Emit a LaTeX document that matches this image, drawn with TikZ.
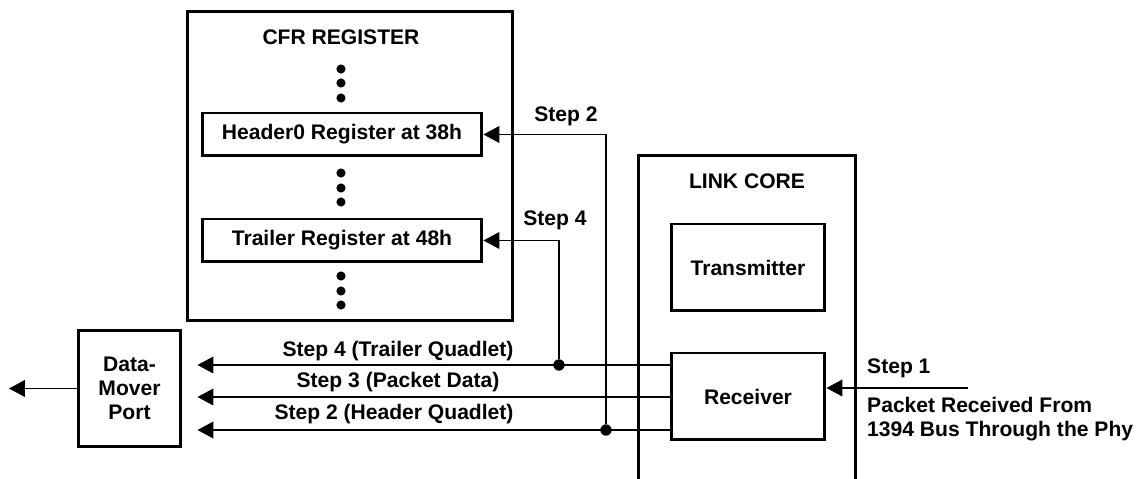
\documentclass[tikz,border=0pt]{standalone}
\usepackage{fontspec}
\setmainfont{Liberation Sans}
\usetikzlibrary{arrows.meta}
\tikzset{
  lbl/.style={font=\fontsize{12}{13.6}\selectfont\bfseries},
  blk/.style={draw, line width=1.7pt, inner sep=0pt, lbl},
  sig/.style={line width=0.7pt, -{Triangle[length=9pt,width=9.5pt]}},
  dot/.style={circle, fill, inner sep=0pt, minimum size=5.2pt},
  jnc/.style={circle, fill, inner sep=0pt, minimum size=6.5pt},
}
\begin{document}
\begin{tikzpicture}[x=0.02cm, y=-0.02cm]
  \useasboundingbox (0,0) rectangle (1140,479);
  \clip (0,0) rectangle (1140,479);
  % CFR register
  \node[blk, minimum width=6.52cm, minimum height=6.2cm] (cfr) at (350,166) {};
  \node[lbl] (cfrtitle) at (341,37) {CFR REGISTER};
  \node[blk, minimum width=5.6cm, minimum height=0.86cm] (hdr) at (342,134.5) {Header0 Register at 38h};
  \node[blk, minimum width=5.6cm, minimum height=0.86cm] (trl) at (342,240.5) {Trailer Register at 48h};
  \foreach \y [count=\i] in {69,83,98,173,188,202,276,291,305}
    \node[dot] (d\i) at (341,\y) {};
  % link core
  \node[blk, minimum width=4.36cm, minimum height=7.3cm] (link) at (747,337.5) {};
  \node[lbl] (linktitle) at (747,181) {LINK CORE};
  \node[blk, minimum width=3.08cm, minimum height=1.74cm] (tx) at (748,267.5) {Transmitter};
  \node[blk, minimum width=3.08cm, minimum height=1.74cm] (rx) at (748,396.5) {Receiver};
  % data mover port
  \node[blk, minimum width=2.06cm, minimum height=2.34cm, align=center] (dmp) at (129.5,388.5) {Data-\\Mover\\Port};
  \coordinate (out) at (9,388.5);
  \draw[sig] (dmp.west) -- (out);
  % step 1
  \coordinate (bus) at (968,388);
  \draw[sig] (bus) -- (rx.east |- bus);
  \node[lbl, anchor=west] (s1) at (861,368) {Step 1};
  \node[lbl, anchor=west, align=left] (s1txt) at (861,419.5) {Packet Received From\\1394 Bus Through the Phy};
  % receiver outputs
  \node[jnc] (j4) at (559,365) {};
  \node[jnc] (j2) at (606,430) {};
  \draw[sig, shorten >=0.3cm] (rx.west |- j4) -- (dmp.east |- j4);
  \draw[sig, shorten >=0.3cm] (rx.west |- 0,397) -- (dmp.east |- 0,397);
  \draw[sig, shorten >=0.3cm] (rx.west |- j2) -- (dmp.east |- j2);
  \draw[sig] (j4) |- (trl.east);
  \draw[sig] (j2) |- (hdr.east);
  \node[lbl] (s4t) at (398,351) {Step 4 (Trailer Quadlet)};
  \node[lbl] (s3t) at (398,382) {Step 3 (Packet Data)};
  \node[lbl] (s2t) at (394,414) {Step 2 (Header Quadlet)};
  \node[lbl] (s2) at (566,116) {Step 2};
  \node[lbl] (s4) at (555,220) {Step 4};
\end{tikzpicture}
\end{document}
